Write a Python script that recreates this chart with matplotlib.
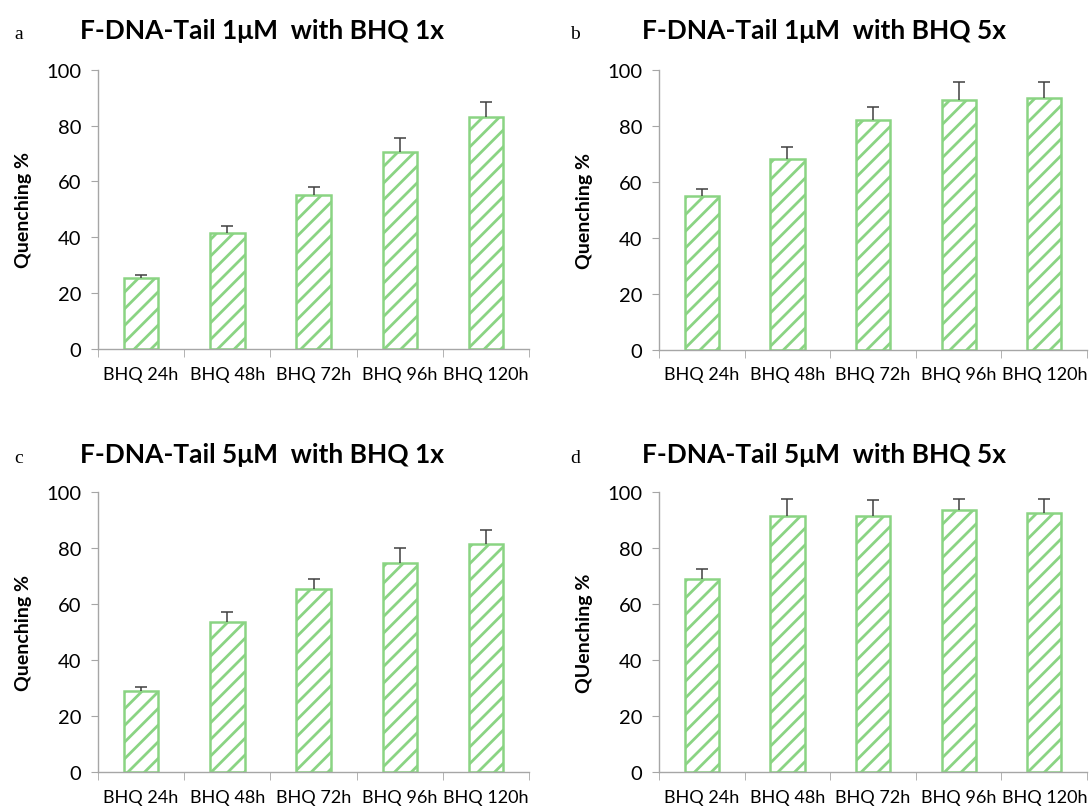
import numpy as np
import matplotlib
matplotlib.use("Agg")
import matplotlib.pyplot as plt

plt.rcParams["font.family"] = ["Lato", "DejaVu Sans"]
plt.rcParams["hatch.linewidth"] = 2.0

categories = ["BHQ 24h", "BHQ 48h", "BHQ 72h", "BHQ 96h", "BHQ 120h"]

a_vals = [25.5, 41.5, 55.0, 70.5, 83.0]
a_err = [1.0, 2.5, 3.0, 5.0, 5.5]
b_vals = [55.0, 68.0, 82.0, 89.0, 90.0]
b_err = [2.5, 4.5, 4.5, 6.5, 5.5]
c_vals = [29.0, 53.5, 65.5, 74.5, 81.5]
c_err = [1.2, 3.5, 3.5, 5.5, 5.0]
d_vals = [69.0, 91.5, 91.5, 93.5, 92.5]
d_err = [3.3, 6.0, 5.5, 4.0, 5.0]

titles = ["F-DNA-Tail 1\u03bcM  with BHQ 1x", "F-DNA-Tail 1\u03bcM  with BHQ 5x",
          "F-DNA-Tail 5\u03bcM  with BHQ 1x", "F-DNA-Tail 5\u03bcM  with BHQ 5x"]
ylabels = ["Quenching %", "Quenching %", "Quenching %", "QUenching %"]
letters = ["a", "b", "c", "d"]

GREEN = "#8ad483"
AXIS = "#a6a6a6"
ERR = "#404040"

fig = plt.figure(figsize=(10.92, 8.12), dpi=100)

# axes boxes in figure fraction (left, bottom, width, height)
boxes = [(0.0897, 0.569, 0.395, 0.344), (0.6035, 0.568, 0.392, 0.345),
         (0.0897, 0.048, 0.395, 0.345), (0.6035, 0.048, 0.392, 0.345)]
title_x = [0.240, 0.755, 0.240, 0.755]
title_y = [0.962, 0.962, 0.440, 0.440]
letter_x = [0.013, 0.522, 0.013, 0.522]

data = [(a_vals, a_err), (b_vals, b_err), (c_vals, c_err), (d_vals, d_err)]

for i, (vals, err) in enumerate(data):
    ax = fig.add_axes(boxes[i])
    x = np.arange(len(categories))
    v = np.array(vals); e = np.array(err)
    ax.bar(x, v, width=0.4, color="white", edgecolor=GREEN, hatch="//",
           linewidth=1.8, zorder=2)
    # upper-only error bars with a cap on top
    ax.vlines(x, v, v + e, color=ERR, lw=1.1, zorder=3)
    ax.plot(x, v + e, ls="none", marker="_", ms=9, mew=1.1, color=ERR, zorder=3)
    ax.set_xlim(-0.5, len(categories) - 0.5)
    ax.set_ylim(0, 100)
    ax.set_yticks(range(0, 101, 20))
    ax.set_xticks(x)
    ax.set_xticklabels(categories)
    ax.set_xticks(np.arange(-0.5, len(categories), 1.0), minor=True)
    ax.tick_params(axis="x", which="major", length=0, pad=12, labelsize=13)
    ax.tick_params(axis="x", which="minor", length=6, color=AXIS, direction="out")
    ax.tick_params(axis="y", length=5, color=AXIS, labelsize=14.5, pad=7)
    for s in ["top", "right"]:
        ax.spines[s].set_visible(False)
    for s in ["left", "bottom"]:
        ax.spines[s].set_color(AXIS)
        ax.spines[s].set_linewidth(1.0)
    ax.set_ylabel(ylabels[i], fontsize=14, fontweight="bold", labelpad=10)
    fig.text(title_x[i], title_y[i], titles[i], ha="center", va="center",
             fontsize=19, fontweight="bold")
    fig.text(letter_x[i], title_y[i] - 0.005, letters[i], ha="left", va="center",
             fontsize=14, family="Liberation Serif")

fig.savefig("out.png", dpi=100)
